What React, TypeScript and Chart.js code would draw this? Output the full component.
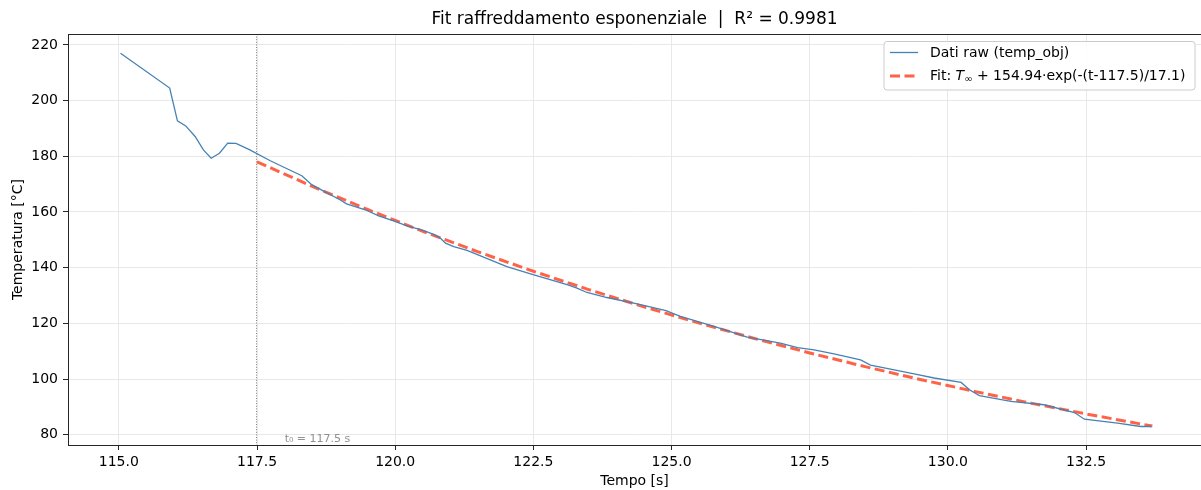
import React, { useEffect, useRef } from "react";
import { Chart, registerables } from "chart.js";

Chart.register(...registerables);

const rawTime = [
  115.03, 115.92, 116.06, 116.21, 116.38, 116.53, 116.67, 116.82, 116.97, 117.12,
  117.37, 117.74, 117.92, 118.31, 118.49, 118.73, 119.0, 119.12, 119.46, 119.7,
  120.0, 120.21, 120.48, 120.72, 120.82, 120.91, 121.06, 121.3, 122.02, 122.51,
  123.11, 123.29, 123.47, 123.83, 124.4, 124.9, 125.16, 125.77, 126.37, 126.97,
  127.28, 127.58, 127.94, 128.42, 128.6, 129.03, 129.39, 129.75, 130.24, 130.39,
  130.57, 131.14, 131.74, 132.29, 132.47, 133.07, 133.49, 133.68,
];
const rawTemp = [
  217.0, 204.5, 192.7, 190.9, 187.1, 182.3, 179.3, 181.1, 184.7, 184.6,
  182.3, 178.4, 176.7, 173.0, 169.8, 167.2, 164.4, 162.9, 160.8, 158.6,
  156.6, 155.0, 153.6, 151.8, 150.6, 148.8, 147.6, 146.2, 140.4, 137.4,
  133.9, 132.7, 131.1, 129.3, 126.9, 124.6, 122.5, 118.9, 115.1, 112.9,
  111.3, 110.5, 109.1, 106.9, 105.0, 103.3, 101.9, 100.4, 98.8, 96.2,
  94.1, 92.0, 90.8, 88.0, 85.6, 84.2, 83.0, 83.0,
];
const fitTime = [
  117.5, 118.5, 119.5, 120.5, 121.5, 122.5, 123.5, 124.5, 125.5, 126.5,
  127.5, 128.5, 129.5, 130.5, 131.5, 132.5, 133.5, 133.7,
];
const fitTemp = [
  178.0, 169.2, 160.9, 153.07, 145.69, 138.72, 132.15, 125.96, 120.11, 114.6,
  109.4, 104.5, 99.87, 95.51, 91.39, 87.51, 83.85, 83.14,
];
const xTicks = [115, 117.5, 120, 122.5, 125, 127.5, 130, 132.5];
const yTicks = [80, 100, 120, 140, 160, 180, 200, 220];
const t0 = 117.5;
const titleText = "Fit raffreddamento esponenziale  |  R\u00B2 = 0.9981";
const rawLabel = "Dati raw (temp_obj)";
const fitLabelPre = "Fit: ";
const fitLabelPost = " + 154.94\u00B7exp(-(t-117.5)/17.1)";
const t0Label = "t\u2080 = 117.5 s";

const FONT = "'DejaVu Sans', sans-serif";
const BLUE = "#4682b4";
const RED = "#ff6347";
const SPINE = "#262626";

export default function App() {
  const ref = useRef<HTMLCanvasElement | null>(null);
  useEffect(() => {
    const canvas = ref.current!;
    const overlay = {
      id: "overlay",
      beforeDatasetsDraw(chart: any) {
        const ctx = chart.ctx;
        const a = chart.chartArea;
        const x = chart.scales.x.getPixelForValue(t0);
        ctx.save();
        ctx.strokeStyle = "#808080";
        ctx.lineWidth = 1;
        ctx.setLineDash([1, 1.6]);
        ctx.beginPath();
        ctx.moveTo(Math.round(x) - 0.5, a.top);
        ctx.lineTo(Math.round(x) - 0.5, a.bottom);
        ctx.stroke();
        ctx.restore();
      },
      afterDraw(chart: any) {
        const ctx = chart.ctx;
        const a = chart.chartArea;
        const sx = chart.scales.x;
        const sy = chart.scales.y;
        ctx.save();
        // spines
        ctx.strokeStyle = SPINE;
        ctx.lineWidth = 1;
        ctx.setLineDash([]);
        ctx.strokeRect(a.left + 0.5, a.top + 0.5, a.right - a.left, a.bottom - a.top);
        // t0 annotation
        ctx.fillStyle = "#909090";
        ctx.font = `11px ${FONT}`;
        ctx.textAlign = "left";
        ctx.textBaseline = "middle";
        ctx.fillText(t0Label, sx.getPixelForValue(118.0), sy.getPixelForValue(78.6));
        // title
        ctx.fillStyle = "#000";
        ctx.font = `17px ${FONT}`;
        ctx.textAlign = "center";
        ctx.textBaseline = "middle";
        ctx.fillText(titleText, (a.left + a.right) / 2, 20);
        // axis titles
        ctx.font = `14px ${FONT}`;
        ctx.fillText("Tempo [s]", (a.left + a.right) / 2, 481);
        ctx.save();
        ctx.translate(18, (a.top + a.bottom) / 2);
        ctx.rotate(-Math.PI / 2);
        ctx.fillText("Temperatura [\u00B0C]", 0, 0);
        ctx.restore();
        // legend
        const bx = 884, by = 41.5, bw = 311, bh = 48.5;
        ctx.beginPath();
        (ctx as any).roundRect(bx, by, bw, bh, 3);
        ctx.fillStyle = "rgba(255,255,255,0.85)";
        ctx.fill();
        ctx.strokeStyle = "#cccccc";
        ctx.lineWidth = 1;
        ctx.stroke();
        ctx.strokeStyle = BLUE;
        ctx.lineWidth = 1.3;
        ctx.beginPath();
        ctx.moveTo(890, 52.5);
        ctx.lineTo(918, 52.5);
        ctx.stroke();
        ctx.strokeStyle = RED;
        ctx.lineWidth = 3;
        ctx.setLineDash([10, 4.5]);
        ctx.beginPath();
        ctx.moveTo(890, 76);
        ctx.lineTo(918, 76);
        ctx.stroke();
        ctx.setLineDash([]);
        ctx.fillStyle = "#000";
        ctx.textAlign = "left";
        ctx.textBaseline = "middle";
        ctx.font = `14px ${FONT}`;
        ctx.fillText(rawLabel, 930, 53);
        let tx = 930;
        ctx.fillText(fitLabelPre, tx, 76);
        tx += ctx.measureText(fitLabelPre).width;
        ctx.font = `italic 14px ${FONT}`;
        ctx.fillText("T", tx, 76);
        tx += ctx.measureText("T").width;
        ctx.font = `10px ${FONT}`;
        ctx.fillText("\u221E", tx, 79);
        tx += ctx.measureText("\u221E").width;
        ctx.font = `14px ${FONT}`;
        ctx.fillText(fitLabelPost, tx, 76);
        ctx.restore();
      },
    };

    const chart = new Chart(canvas, {
      type: "line",
      data: {
        datasets: [
          {
            label: rawLabel,
            data: rawTime.map((t, i) => ({ x: t, y: rawTemp[i] })),
            borderColor: BLUE,
            borderWidth: 1.3,
            pointRadius: 0,
            tension: 0,
            fill: false,
          },
          {
            label: "fit",
            data: fitTime.map((t, i) => ({ x: t, y: fitTemp[i] })),
            borderColor: RED,
            borderWidth: 3,
            borderDash: [10, 4.5],
            pointRadius: 0,
            tension: 0,
            fill: false,
          },
        ],
      },
      options: {
        responsive: false,
        animation: false,
        devicePixelRatio: 1,
        layout: { padding: { top: 34, right: 0, bottom: 0, left: 0 } },
        plugins: { legend: { display: false }, title: { display: false }, tooltip: { enabled: false } },
        font: { family: FONT },
        scales: {
          x: {
            type: "linear",
            min: 114.08,
            max: 134.58,
            afterBuildTicks: (s: any) => { s.ticks = xTicks.map((v) => ({ value: v })); },
            afterFit: (s: any) => { s.height = 45; },
            ticks: {
              autoSkip: false,
              maxRotation: 0,
              padding: 4,
              color: "#000",
              font: { family: FONT, size: 14 },
              callback: (v: any) => Number(v).toFixed(1),
            },
            grid: { color: "#e8e8e8", lineWidth: 1, tickColor: SPINE, tickLength: 5, tickWidth: 1 },
            border: { display: false },
          },
          y: {
            type: "linear",
            min: 76.35,
            max: 223.9,
            afterBuildTicks: (s: any) => { s.ticks = yTicks.map((v) => ({ value: v })); },
            afterFit: (s: any) => { s.width = 68; },
            ticks: {
              autoSkip: false,
              padding: 5,
              color: "#000",
              font: { family: FONT, size: 14 },
              callback: (v: any) => String(v),
            },
            grid: { color: "#e8e8e8", lineWidth: 1, tickColor: SPINE, tickLength: 5, tickWidth: 1 },
            border: { display: false },
          },
        },
      } as any,
      plugins: [overlay],
    });
    return () => chart.destroy();
  }, []);
  return (
    <div style={{ position: "fixed", left: 0, top: 0, width: 1201, height: 490, background: "#fff" }}>
      <canvas ref={ref} width={1201} height={490} style={{ width: 1201, height: 490, display: "block" }} />
    </div>
  );
}
